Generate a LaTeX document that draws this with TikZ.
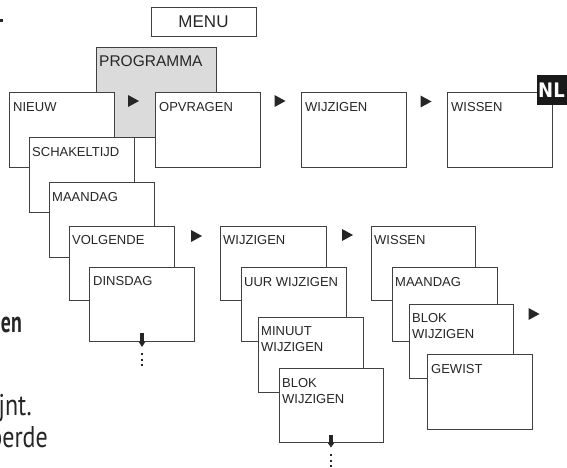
\documentclass[tikz,border=0pt]{standalone}
\usepackage{fontspec}
\setmainfont{Liberation Sans}
\newfontfamily\bodyfont{PT Sans}
\newfontfamily\badgefont{DejaVu Sans Condensed}
\usetikzlibrary{positioning}

\tikzset{
  scr/.style={draw=black!75, line width=0.8pt, fill=white, anchor=north west,
    minimum width=105pt, minimum height=75pt, inner sep=0pt, outer sep=0pt},
  lbl/.style={anchor=north west, inner sep=0pt, align=left, text=black!85,
    font=\fontsize{13}{16}\selectfont},
  body/.style={anchor=base east, inner sep=0pt, text=black!85,
    font=\bodyfont\fontsize{30}{30}\selectfont},
  tip/.style={fill=black!85},
}

\begin{document}
\begin{tikzpicture}
  [x=1pt,y=-1pt]
  \useasboundingbox (0,0) rectangle (567,468);

  % text fragments of the page
  \fill[black!85] (0,19) rectangle (2.5,22.5);
  \node[body, font=\bodyfont\bfseries\fontsize{30}{30}\selectfont] (en) at (22,332) {\scalebox{0.66}[1]{en}};
  \node[body] (jnt) at (32,415) {\scalebox{0.8}[1]{jnt.}};
  \node[body] (perde) at (48,447) {\scalebox{0.8}[1]{perde}};

  % top menu
  \node[scr, minimum width=105pt, minimum height=29pt] (menu) at (151,7) {};
  \node[text=black!85, font=\fontsize{17}{17}\selectfont] at (menu.center) {MENU};
  \node[scr, fill=black!14, minimum width=120pt, minimum height=90pt] (prog) at (96,47) {};
  \node[lbl, below right=8pt and 3pt of prog.north west, font=\fontsize{15.5}{16}\selectfont] {PROGRAMMA};

  % first row
  \node[scr] (nieuw) at (9,92) {};
  \node[lbl, below right=10pt and 4pt of nieuw.north west] {NIEUW};
  \node[scr] (opvr) at (155,92) {};
  \node[lbl, below right=10pt and 4pt of opvr.north west] {OPVRAGEN};
  \node[scr] (wijz) at (301,92) {};
  \node[lbl, below right=10pt and 4pt of wijz.north west] {WIJZIGEN};
  \node[scr] (wiss) at (447,92) {};
  \node[lbl, below right=10pt and 4pt of wiss.north west] {WISSEN};

  \fill[tip] (128,95)   -- ++(11,6) -- ++(-11,6) -- cycle;
  \fill[tip] (274.5,95) -- ++(11,6) -- ++(-11,6) -- cycle;
  \fill[tip] (420.5,95.5) -- ++(11,6) -- ++(-11,6) -- cycle;

  % NIEUW cascade
  \node[scr] (schak) at (29,137) {};
  \node[lbl, below right=10pt and 3pt of schak.north west] {SCHAKELTIJD};
  \node[scr] (maand) at (49,182) {};
  \node[lbl, below right=10pt and 3pt of maand.north west] {MAANDAG};
  \node[scr, minimum height=74pt] (volg) at (69,226) {};
  \node[lbl, below right=9pt and 3pt of volg.north west] {VOLGENDE};
  \node[scr, minimum height=74pt] (dins) at (89,267) {};
  \node[lbl, below right=9pt and 4pt of dins.north west] {DINSDAG};

  \fill[tip] (140,333) rectangle (144,342);
  \fill[tip] (138.5,341.5) -- (145.5,341.5) -- (142,347) -- cycle;
  \foreach \d in {353,358.5,364}
    \fill[tip] (141,\d) rectangle ++(2,2);

  \fill[tip] (191,230) -- ++(11,6) -- ++(-11,6) -- cycle;

  % WIJZIGEN cascade
  \node[scr, minimum width=106pt, minimum height=74pt] (wijz2) at (220,226) {};
  \node[lbl, below right=9pt and 3pt of wijz2.north west] {WIJZIGEN};
  \node[scr, minimum height=74pt] (uur) at (241,267) {};
  \node[lbl, below right=10pt and 3pt of uur.north west] {UUR WIJZIGEN};
  \node[scr] (minuut) at (258,317) {};
  \node[lbl, below right=9pt and 3pt of minuut.north west] {MINUUT\\WIJZIGEN};
  \node[scr, minimum width=104pt, minimum height=74pt] (blok) at (279,368) {};
  \node[lbl, below right=10pt and 3pt of blok.north west] {BLOK\\WIJZIGEN};

  \fill[tip] (329,435) rectangle (333,443);
  \fill[tip] (327.5,442.5) -- (334.5,442.5) -- (331,447.5) -- cycle;
  \foreach \d in {454,459.5,465}
    \fill[tip] (330,\d) rectangle ++(2,2);

  \fill[tip] (342,229) -- ++(11,6) -- ++(-11,6) -- cycle;

  % WISSEN cascade
  \node[scr, minimum width=104pt, minimum height=74pt] (wiss2) at (371,226) {};
  \node[lbl, below right=9pt and 3pt of wiss2.north west] {WISSEN};
  \node[scr, minimum height=74pt] (maand2) at (392,267) {};
  \node[lbl, below right=10pt and 3pt of maand2.north west] {MAANDAG};
  \node[scr, minimum width=104pt, minimum height=74pt] (blok2) at (409,304) {};
  \node[lbl, below right=9pt and 3pt of blok2.north west] {BLOK\\WIJZIGEN};
  \node[scr] (gewist) at (427,354) {};
  \node[lbl, below right=10pt and 4pt of gewist.north west] {GEWIST};

  \fill[tip] (528.5,308) -- ++(11,6) -- ++(-11,6) -- cycle;

  % language badge
  \fill[black!90] (537,75) rectangle (575,105);
  \node[text=white, inner sep=0pt, font=\badgefont\bfseries\fontsize{20}{20}\selectfont] (nl) at (551.5,90.5) {NL};
\end{tikzpicture}
\end{document}
